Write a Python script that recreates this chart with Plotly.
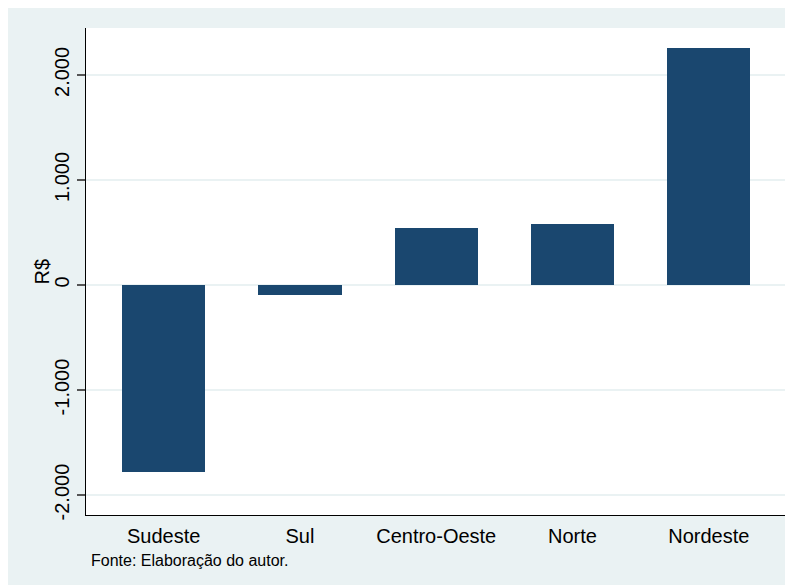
import plotly.graph_objects as go

categories = ["Sudeste", "Sul", "Centro-Oeste", "Norte", "Nordeste"]
values = [-1778, -95, 543, 578, 2254]
y_tickvals = [-2000, -1000, 0, 1000, 2000]
y_ticktext = ["-2.000", "-1.000", "0", "1.000", "2.000"]

BG = "#EAF2F3"
BAR = "#1A476F"
FONT = "Liberation Sans, Arial, sans-serif"

# page shows the figure offset by the body margin (8px)
OFF = 8
W, H = 785, 577
ml, mr, mt, mb = 78, 6, 20, 70
pw, ph = W - ml - mr, H - mt - mb

def px_x(sx):
    return (sx - OFF - ml) / pw

def px_y(sy):
    return (H - mb - (sy - OFF)) / ph

fig = go.Figure(go.Bar(
    x=categories, y=values, width=0.61,
    marker=dict(color=BAR, line=dict(width=0)),
))

fig.update_layout(
    width=W, height=H,
    margin=dict(l=ml, r=mr, t=mt, b=mb, pad=0),
    paper_bgcolor=BG, plot_bgcolor="white",
    font=dict(family=FONT, color="black", size=20),
    showlegend=False,
    bargap=0,
    xaxis=dict(
        range=[-0.57, 4.574], showgrid=False, zeroline=False,
        showline=True, linecolor="black", linewidth=1.3,
        ticks="", ticklabelstandoff=3,
        tickfont=dict(size=20, family=FONT, color="black"),
        fixedrange=True,
    ),
    yaxis=dict(
        range=[-2190, 2447], tickvals=y_tickvals, ticktext=y_ticktext,
        tickangle=-90, ticks="outside", ticklen=8, tickwidth=1.5, tickcolor="#555",
        showgrid=True, gridcolor=BG, gridwidth=1.6, zeroline=False,
        showline=True, linecolor="black", linewidth=1.3,
        tickfont=dict(size=20, family=FONT, color="black"),
        fixedrange=True,
    ),
    annotations=[
        dict(text="R$", xref="paper", yref="paper",
             x=px_x(41), y=0.5, xanchor="center", yanchor="middle", textangle=-90,
             showarrow=False, font=dict(size=20, family=FONT, color="black")),
        dict(text="Fonte: Elaboração do autor.", xref="paper", yref="paper",
             x=px_x(89), y=px_y(560), xanchor="left", yanchor="middle",
             showarrow=False, font=dict(size=16, family=FONT, color="black")),
    ],
)

fig.write_html("out.html", config={"displayModeBar": False})
